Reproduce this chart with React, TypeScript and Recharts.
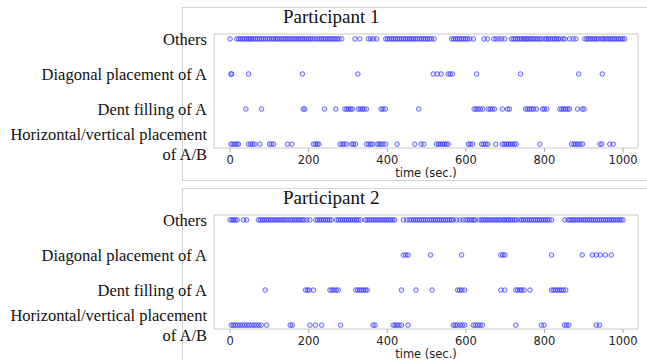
import React from "react";
import {
  ScatterChart,
  Scatter,
  XAxis,
  YAxis,
  ReferenceArea,
} from "recharts";

// categories, bottom to top
const categories = [
  ["Horizontal/vertical placement", "of A/B"],
  ["Dent filling of A"],
  ["Diagonal placement of A"],
  ["Others"],
];

const timeTicks = [0, 200, 400, 600, 800, 1000];

// Participant 1 (seconds)
const p1Others = [
  0, 17, 22, 27, 32, 37, 42, 47, 51, 55, 60, 65, 70, 75, 80, 85, 90, 95, 100, 106,
  110, 115, 120, 125, 130, 135, 140, 145, 150, 155, 160, 165, 170, 175, 180, 185,
  190, 195, 200, 205, 210, 216, 222, 227, 232, 237, 242, 247, 252, 257, 262, 267,
  272, 277, 284, 318, 330, 352, 358, 365, 373, 396, 401, 406, 411, 416, 421, 426,
  431, 436, 441, 446, 451, 456, 461, 466, 471, 476, 482, 487, 492, 497, 502, 507,
  512, 519, 564, 569, 574, 579, 584, 589, 594, 599, 604, 610, 619, 646, 655, 671,
  677, 684, 691, 699, 716, 721, 726, 731, 736, 741, 746, 750, 754, 758, 763, 768,
  773, 778, 783, 788, 793, 801, 805, 810, 815, 820, 825, 830, 835, 840, 847, 852,
  864, 873, 880, 903, 908, 913, 918, 923, 928, 933, 938, 945, 949, 954, 959, 964,
  969, 974, 979, 984, 989, 994, 999, 1004,
];
const p1Diagonal = [2, 4, 47, 184, 325, 517, 527, 537, 555, 560, 566, 627, 739, 887, 947];
const p1Dent = [
  40, 80, 186, 190, 240, 269, 292, 297, 302, 307, 311, 326, 331, 336, 341, 347, 384,
  389, 395, 480, 621, 626, 631, 637, 643, 657, 662, 667, 673, 693, 706, 711, 752, 757,
  762, 767, 772, 779, 795, 800, 806, 839, 844, 849, 854, 859, 864, 884, 896, 901,
];
const p1Horizontal = [
  2, 7, 12, 17, 21, 47, 52, 58, 63, 76, 100, 105, 111, 146, 157, 212, 217, 222, 226,
  280, 285, 290, 296, 309, 314, 319, 347, 353, 358, 362, 374, 379, 384, 389, 396, 425,
  470, 486, 493, 525, 530, 535, 540, 545, 550, 555, 606, 611, 617, 640, 645, 651, 656,
  676, 693, 698, 703, 708, 713, 718, 723, 728, 788, 869, 875, 880, 885, 891, 897, 941,
  946, 966, 975,
];

// Participant 2 (seconds)
const p2Others = [
  0, 5, 9, 13, 18, 34, 42, 72, 77, 82, 87, 92, 97, 102, 107, 112, 117, 122, 127, 132,
  137, 142, 147, 153, 158, 163, 168, 173, 178, 183, 188, 195, 203, 218, 223, 228, 233,
  238, 243, 248, 253, 258, 271, 276, 281, 286, 291, 296, 301, 306, 311, 316, 321, 326,
  332, 344, 349, 354, 359, 364, 369, 374, 379, 384, 389, 394, 399, 404, 409, 414, 419,
  441, 450, 457, 462, 467, 472, 477, 482, 487, 492, 497, 502, 508, 513, 518, 523, 528,
  533, 538, 543, 548, 553, 558, 563, 568, 576, 585, 593, 600, 605, 610, 615, 620, 623,
  634, 639, 644, 649, 654, 659, 664, 669, 674, 679, 684, 689, 695, 699, 704, 709, 714,
  719, 724, 729, 737, 742, 747, 752, 757, 762, 767, 772, 777, 782, 787, 792, 797, 802,
  807, 812, 818, 852, 860, 865, 870, 875, 880, 885, 890, 895, 900, 905, 910, 915, 920,
  925, 930, 935, 940, 945, 950, 955, 960, 965, 970, 975, 980, 985, 990, 995, 1000,
];
const p2Diagonal = [441, 447, 453, 510, 589, 689, 694, 699, 818, 896, 922, 932, 942, 955, 970];
const p2Dent = [
  89, 192, 197, 201, 212, 254, 259, 264, 270, 275, 320, 325, 330, 335, 340, 345, 349,
  436, 473, 514, 579, 584, 590, 597, 689, 699, 727, 732, 738, 742, 748, 763, 818, 823,
  828, 833, 838, 843, 848, 854,
];
const p2Horizontal = [
  3, 8, 13, 19, 25, 31, 37, 43, 49, 55, 61, 67, 73, 79, 93, 153, 158, 203, 217, 233,
  281, 364, 369, 415, 420, 425, 430, 436, 453, 568, 573, 578, 585, 591, 597, 619, 624,
  630, 636, 642, 727, 792, 799, 851, 856, 862, 932, 940,
];

const X_DOMAIN: [number, number] = [-41, 1038];
const Y_DOMAIN: [number, number] = [0.89, 4.14];

const dot = (p: any) => (
  <circle
    cx={p.cx}
    cy={p.cy}
    r={2.3}
    fill="#2f2fff"
    fillOpacity={0.12}
    stroke="#2f2fff"
    strokeOpacity={0.68}
    strokeWidth={1}
  />
);

function CategoryTick(props: any) {
  const lines = categories[props.payload.value - 1] || [];
  const startY = props.y - ((lines.length - 1) * 20) / 2;
  return (
    <text
      x={207}
      y={startY}
      textAnchor="end"
      dominantBaseline="central"
      fontFamily="'Liberation Serif', serif"
      fontSize={16.5}
      fill="#111"
    >
      {lines.map((l: string, i: number) => (
        <tspan key={i} x={207} y={startY + i * 20}>
          {l}
        </tspan>
      ))}
    </text>
  );
}

function Panel({ title, rows, top }: { title: string; rows: number[][]; top: number }) {
  return (
    <div style={{ position: "absolute", left: 0, top, width: 647, height: 180 }}>
      <div
        style={{
          position: "absolute",
          left: 182,
          top: 7,
          width: 470,
          height: 172,
          borderLeft: "1px solid #d4d4d4",
          borderTop: "1px solid #d4d4d4",
          borderBottom: "1px solid #d4d4d4",
        }}
      />
      <div
        style={{
          position: "absolute",
          left: 283,
          top: 5,
          fontFamily: "'Liberation Serif', serif",
          fontSize: 19,
          color: "#111",
          lineHeight: "24px",
        }}
      >
        {title}
      </div>
      <ScatterChart
        width={647}
        height={180}
        margin={{ top: 34, right: 9, bottom: 0, left: 0 }}
        style={{ position: "absolute", left: 0, top: 0 }}
      >
        <XAxis
          type="number"
          dataKey="x"
          domain={X_DOMAIN}
          allowDataOverflow
          ticks={timeTicks}
          axisLine={false}
          tickSize={4}
          tickMargin={4}
          tickLine={{ stroke: "#aaa" }}
          tick={{ fontSize: 11.5, fill: "#222", fontFamily: "'DejaVu Sans', sans-serif" }}
          height={32}
          label={{
            value: "time (sec.)",
            position: "insideBottom",
            offset: 3,
            fontSize: 11.5,
            fill: "#222",
            fontFamily: "'DejaVu Sans', sans-serif",
          }}
        />
        <YAxis
          type="number"
          dataKey="y"
          domain={Y_DOMAIN}
          allowDataOverflow
          ticks={[1, 2, 3, 4]}
          axisLine={false}
          tickLine={false}
          width={214}
          tick={<CategoryTick />}
        />
        <ReferenceArea
          x1={X_DOMAIN[0]}
          x2={X_DOMAIN[1]}
          y1={Y_DOMAIN[0]}
          y2={Y_DOMAIN[1]}
          fill="#fff"
          fillOpacity={0}
          stroke="#c8c8c8"
        />
        {rows.map((values, i) => (
          <Scatter
            key={i}
            data={values.map((x) => ({ x, y: i + 1 }))}
            shape={dot}
            isAnimationActive={false}
          />
        ))}
      </ScatterChart>
    </div>
  );
}

export default function App() {
  return (
    <div
      style={{
        position: "absolute",
        left: 0,
        top: 0,
        width: 647,
        height: 360,
        background: "#fff",
        overflow: "hidden",
      }}
    >
      <Panel
        title="Participant 1"
        top={0}
        rows={[p1Horizontal, p1Dent, p1Diagonal, p1Others]}
      />
      <Panel
        title="Participant 2"
        top={181}
        rows={[p2Horizontal, p2Dent, p2Diagonal, p2Others]}
      />
    </div>
  );
}
